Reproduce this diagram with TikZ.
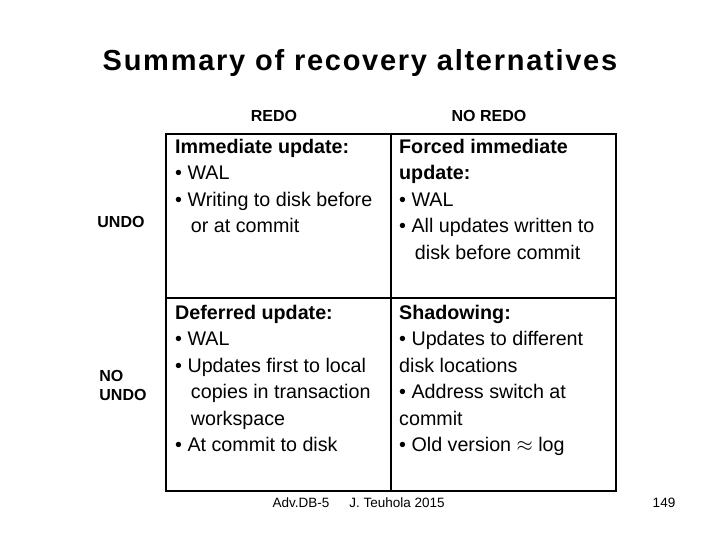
\documentclass[tikz,border=0pt]{standalone}
\usepackage{fontspec}
\setmainfont{Liberation Sans}
\begin{document}
\begin{tikzpicture}[x=1pt,y=-1pt,
  cell/.style={anchor=north west,align=left,inner sep=0pt,font=\fontsize{19.7}{26.5}\selectfont},
  hdr/.style={font=\bfseries\fontsize{16}{19}\selectfont},
  grid/.style={line width=1.5pt,black},
  foot/.style={font=\fontsize{13.5}{15}\selectfont}]
\useasboundingbox (0,0) rectangle (720,540);
\node[font=\bfseries\fontsize{29}{32}\selectfont\addfontfeature{LetterSpace=6}] (title) at (360,63) {Summary of recovery alternatives};
\node[hdr] (redo) at (274,116) {REDO};
\node[hdr] (noredo) at (489,116) {NO REDO};
\node[hdr] (undo) at (121,222) {UNDO};
\node[hdr,align=left] (noundo) at (123,385) {NO\\UNDO};
\coordinate (a) at (166,134); \coordinate (b) at (616,491);
\coordinate (c) at (391,134); \coordinate (d) at (391,491);
\coordinate (e) at (166,298); \coordinate (f) at (616,298);
\draw[grid] (a) rectangle (b); \draw[grid] (c) -- (d); \draw[grid] (e) -- (f);
\def\ind{\hspace*{0.8em}}
\node[cell] (c11) at (175,139) {\textbf{Immediate update:}\\• WAL\\• Writing to disk before\\\ind or at commit};
\node[cell] (c12) at (399,139) {\textbf{Forced immediate}\\\textbf{update:}\\• WAL\\• All updates written to\\\ind disk before commit};
\node[cell] (c21) at (175,305) {\textbf{Deferred update:}\\• WAL\\• Updates first to local\\\ind copies in transaction\\\ind workspace\\• At commit to disk};
\node[cell] (c22) at (399,305) {\textbf{Shadowing:}\\• Updates to different\\disk locations\\• Address switch at\\commit\\• Old version $\approx$ log};
\node[foot] (f1) at (301,503) {Adv.DB-5};
\node[foot] (f2) at (397,503) {J. Teuhola 2015};
\node[foot] (f3) at (664,503) {149};
\end{tikzpicture}
\end{document}
